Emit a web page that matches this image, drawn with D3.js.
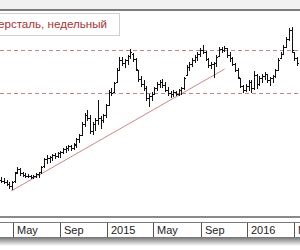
<!DOCTYPE html>
<html>
<head>
<meta charset="utf-8">
<script src="https://cdn.jsdelivr.net/npm/d3@7"></script>
<style>
  body { margin: 0; background: #fff; }
  svg { display: block; }
</style>
</head>
<body>
<div id="chart"></div>
<script>
// weekly bars, first one starts on this Monday
const firstWeek = new Date(2014, 2, 31);

const high = [292, 288, 280, 272, 276, 312, 332, 328, 312, 308, 304, 300, 300, 308, 312, 336, 368, 380, 376, 384,
  388, 392, 396, 408, 416, 420, 420, 428, 448, 464, 512, 548, 560, 540, 512, 528, 600, 536, 544, 584,
  640, 648, 672, 728, 772, 772, 764, 780, 804, 788, 768, 720, 696, 680, 656, 624, 632, 652, 672, 680,
  684, 672, 652, 636, 640, 636, 644, 652, 692, 740, 752, 768, 780, 792, 808, 820, 796, 768, 752, 752,
  780, 812, 812, 816, 808, 792, 772, 748, 728, 688, 660, 664, 680, 680, 716, 704, 696, 704, 712, 704,
  692, 700, 724, 768, 792, 820, 852, 888, 892, 792, 772];
const low = [272, 268, 260, 248, 244, 272, 308, 300, 296, 292, 292, 288, 288, 292, 292, 308, 332, 348, 352, 360,
  368, 372, 372, 388, 392, 400, 400, 404, 412, 432, 460, 496, 520, 468, 464, 480, 504, 488, 512, 532,
  580, 620, 632, 672, 720, 740, 732, 744, 768, 756, 720, 676, 656, 640, 600, 576, 600, 624, 640, 652,
  652, 636, 620, 612, 616, 620, 620, 624, 644, 700, 720, 736, 752, 760, 776, 788, 760, 732, 728, 692,
  736, 776, 792, 796, 772, 756, 740, 716, 688, 652, 632, 636, 640, 632, 644, 648, 660, 672, 684, 672,
  660, 672, 692, 720, 768, 784, 812, 840, 792, 760, 740];
const open = [280, 276, 272, 264, 256, 276, 312, 324, 308, 300, 296, 296, 292, 296, 304, 312, 336, 364, 368, 372,
  380, 376, 388, 392, 404, 408, 416, 408, 420, 444, 460, 504, 540, 528, 476, 504, 520, 528, 520, 540,
  580, 632, 632, 672, 720, 760, 748, 760, 776, 784, 764, 720, 684, 664, 648, 608, 616, 624, 648, 664,
  672, 660, 640, 628, 624, 632, 624, 640, 648, 700, 732, 744, 760, 772, 784, 800, 792, 764, 740, 744,
  748, 776, 804, 800, 808, 780, 768, 744, 720, 688, 656, 640, 656, 672, 648, 700, 664, 688, 696, 704,
  680, 688, 696, 720, 768, 784, 812, 844, 880, 792, 768];
const close = [276, 272, 264, 256, 272, 308, 324, 308, 300, 296, 296, 292, 296, 304, 312, 332, 364, 368, 372, 380,
  376, 388, 392, 404, 408, 416, 408, 424, 444, 460, 504, 540, 528, 476, 504, 520, 528, 520, 540, 580,
  632, 628, 668, 720, 760, 748, 760, 776, 792, 764, 724, 684, 664, 648, 608, 616, 624, 648, 664, 672,
  660, 640, 628, 624, 632, 624, 640, 648, 688, 732, 744, 760, 772, 784, 800, 792, 764, 740, 744, 748,
  772, 804, 800, 808, 780, 768, 744, 720, 692, 656, 640, 656, 672, 648, 700, 664, 688, 696, 704, 680,
  688, 696, 720, 760, 784, 812, 844, 880, 800, 768, 748];

// horizontal support / resistance levels and the rising trend line
const levels = [800, 630];
const trendDates = [new Date(2014, 3, 26), new Date(2015, 10, 3)];
const trendPrices = [236, 724];

const tickDates = [new Date(2014, 4, 1), new Date(2014, 8, 1), new Date(2015, 0, 1), new Date(2015, 4, 1),
  new Date(2015, 8, 1), new Date(2016, 0, 1), new Date(2016, 4, 1)];
const tickLabels = ["May", "Sep", "2015", "May", "Sep", "2016", "May"];

const title = "Северсталь, недельный";

const width = 300, height = 250;
const plotTop = 11, plotBottom = 215, axisTop = 216;

const svg = d3.select('#chart').append('svg')
    .attr('width', width)
    .attr('height', height);

const x = d3.scaleTime()
    .domain([new Date(2014, 2, 28), new Date(2016, 4, 17)])
    .range([0, width]);

const y = d3.scaleLinear()
    .domain([136, 960])
    .range([axisTop, 10]);

const bars = high.map((h, i) => ({
    date: d3.timeDay.offset(firstWeek, i * 7),
    high: h, low: low[i], open: open[i], close: close[i]
}));

// top strip
svg.append('rect').attr('x', 0).attr('y', 0).attr('width', width).attr('height', 9).attr('fill', '#f1f1f1');
svg.append('rect').attr('x', 0).attr('y', 9).attr('width', width).attr('height', 2).attr('fill', '#7c7c7c');

const defs = svg.append('defs');
defs.append('clipPath').attr('id', 'plot-clip')
    .append('rect').attr('x', 0).attr('y', plotTop).attr('width', width).attr('height', plotBottom - plotTop);

const plot = svg.append('g').attr('clip-path', 'url(#plot-clip)');

// levels
plot.selectAll('.level').data(levels).join('line')
    .attr('class', 'level')
    .attr('x1', 0).attr('x2', width)
    .attr('y1', d => Math.round(y(d)) + 0.5)
    .attr('y2', d => Math.round(y(d)) + 0.5)
    .attr('stroke', '#c98585')
    .attr('stroke-width', 1)
    .attr('stroke-dasharray', '4,3');

// trend line
plot.append('line')
    .attr('x1', x(trendDates[0])).attr('y1', y(trendPrices[0]))
    .attr('x2', x(trendDates[1])).attr('y2', y(trendPrices[1]))
    .attr('stroke', '#d28686')
    .attr('stroke-width', 1);

// OHLC bars
const g = plot.append('g')
    .attr('stroke', '#111')
    .attr('stroke-width', 1)
    .attr('shape-rendering', 'crispEdges');

bars.forEach(d => {
    const bx = Math.round(x(d.date)) + 0.5;
    g.append('line').attr('x1', bx).attr('x2', bx)
        .attr('y1', Math.round(y(d.high))).attr('y2', Math.round(y(d.low)) + 1);
    g.append('line').attr('x1', bx - 1.5).attr('x2', bx)
        .attr('y1', Math.round(y(d.open)) + 0.5).attr('y2', Math.round(y(d.open)) + 0.5);
    g.append('line').attr('x1', bx).attr('x2', bx + 1.5)
        .attr('y1', Math.round(y(d.close)) + 0.5).attr('y2', Math.round(y(d.close)) + 0.5);
});

// legend box (title is cut off at the left edge, as in the source)
svg.append('rect')
    .attr('x', -1.5).attr('y', 13.5).attr('width', 121).attr('height', 22)
    .attr('fill', '#fff').attr('stroke', '#cfcfcf');
svg.append('text')
    .attr('x', 107).attr('y', 28)
    .attr('text-anchor', 'end')
    .attr('font-family', 'Liberation Sans, Arial, sans-serif')
    .attr('font-size', 11.6)
    .attr('fill', '#a83434')
    .text(title);

// time axis strip
svg.append('rect').attr('x', 0).attr('y', axisTop).attr('width', width).attr('height', 2).attr('fill', '#8a8a8a');
svg.append('rect').attr('x', 0).attr('y', 222).attr('width', width).attr('height', 1).attr('fill', '#7a7a7a');

const shadow = defs.append('linearGradient')
    .attr('id', 'shadow')
    .attr('x1', 0).attr('y1', 0).attr('x2', 0).attr('y2', 1);
shadow.append('stop').attr('offset', '0%').attr('stop-color', '#6f6f6f');
shadow.append('stop').attr('offset', '100%').attr('stop-color', '#ffffff');
svg.append('rect').attr('x', 0).attr('y', 237).attr('width', width).attr('height', 9).attr('fill', 'url(#shadow)');

const ticks = svg.append('g');
ticks.selectAll('line').data(tickDates).join('line')
    .attr('x1', d => Math.round(x(d)) + 0.5).attr('x2', d => Math.round(x(d)) + 0.5)
    .attr('y1', 223).attr('y2', 237)
    .attr('stroke', '#555');
ticks.selectAll('text').data(tickDates).join('text')
    .attr('x', d => Math.round(x(d)) + 4)
    .attr('y', 234)
    .attr('font-family', 'Liberation Sans, Arial, sans-serif')
    .attr('font-size', 11)
    .attr('fill', '#222')
    .text((d, i) => tickLabels[i]);
</script>
</body>
</html>
